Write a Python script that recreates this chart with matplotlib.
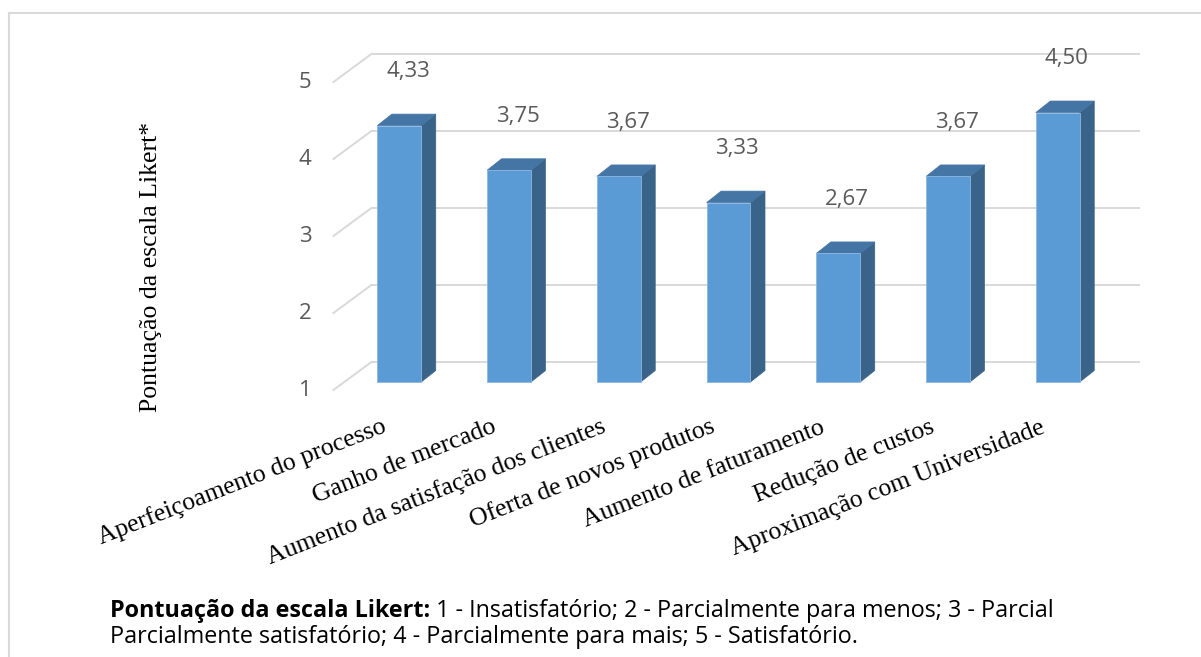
import matplotlib
matplotlib.use("Agg")
import matplotlib.pyplot as plt
from matplotlib.patches import Polygon
from matplotlib.lines import Line2D

# data
categories = [
    "Aperfeiçoamento do processo",
    "Ganho de mercado",
    "Aumento da satisfação dos clientes",
    "Oferta de novos produtos",
    "Aumento de faturamento",
    "Redução de custos",
    "Aproximação com Universidade",
]
scores = [4.33, 3.75, 3.67, 3.33, 2.67, 3.67, 4.50]
score_labels = ["4,33", "3,75", "3,67", "3,33", "2,67", "3,67", "4,50"]
y_ticks = [1, 2, 3, 4, 5]

FRONT = "#5B9BD5"
SIDE = "#3A6389"
TOP = "#4475A4"
GRID = "#D9D9D9"
TXT = "#595959"

W, H = 1201, 657
fig = plt.figure(figsize=(W / 100, H / 100), dpi=100)

# pixel mapping of the bar plane: category 0 centre at x=399.3, 109.75 px per category,
# value 1 at y=382, 77 px per unit
x0px, xs = 399.3, 109.75
y1px, ys = 382.0, 77.0
L, R, T, B = 300, 1160, 30, 400
ax = fig.add_axes([L / W, 1 - B / H, (R - L) / W, (B - T) / H])
ax.set_xlim((L - x0px) / xs, (R - x0px) / xs)
ax.set_ylim(1 - (B - y1px) / ys, 1 + (y1px - T) / ys)
ax.axis("off")

n = len(categories)
base = min(y_ticks)
bw = 0.40
# depth offsets (data units)
back_dx, back_dy = 0.246, 0.26
front_dx, front_dy = -0.10, -0.104
bar_dx, bar_dy = 0.132, 0.149
left_edge, right_edge = -0.5, n - 0.5

# back wall gridlines and the diagonal floor/axis lines
for v in y_ticks:
    ax.plot([left_edge + back_dx, right_edge + back_dx], [v + back_dy, v + back_dy],
            color=GRID, lw=1.4, zorder=1, solid_capstyle="butt")
    ax.plot([left_edge + front_dx, left_edge + back_dx], [v + front_dy, v + back_dy],
            color=GRID, lw=1.4, zorder=1)
    ax.text(left_edge + front_dx - 0.2, v + front_dy, str(v), ha="right", va="center",
            fontsize=16, color=TXT, family="Open Sans")

# bars: front faces with ax.bar, side and top faces as polygons
xs_pos = list(range(n))
heights = [s - base for s in scores]
ax.bar(xs_pos, heights, bottom=base, width=bw, color=FRONT, edgecolor="#8DB6E0",
       linewidth=0.6, zorder=3)
for i, s in enumerate(scores):
    xl, xr = i - bw / 2, i + bw / 2
    side = [(xr, base), (xr, s), (xr + bar_dx, s + bar_dy), (xr + bar_dx, base + bar_dy)]
    top = [(xl, s), (xr, s), (xr + bar_dx, s + bar_dy), (xl + bar_dx, s + bar_dy)]
    ax.add_patch(Polygon(side, closed=True, facecolor=SIDE, edgecolor=SIDE, lw=0.5, zorder=2))
    ax.add_patch(Polygon(top, closed=True, facecolor=TOP, edgecolor=TOP, lw=0.5, zorder=2))
    ax.text(i + 0.08, s + 0.70, score_labels[i], ha="center", va="center",
            fontsize=16, color=TXT, family="Open Sans")
    ax.text(i - 0.11, base - 50 / ys, categories[i], rotation=21.5, rotation_mode="anchor",
            ha="right", va="baseline", fontsize=18.5, color="black", family="Liberation Serif")

fig.text(151 / W, 1 - 267 / H, "Pontuação da escala Likert*", rotation=90,
         ha="center", va="center", fontsize=18.5, family="Liberation Serif")

# footer note
t1 = fig.text(110 / W, 1 - 617 / H, "Pontuação da escala Likert:", fontweight="bold",
              fontsize=16.8, family="Open Sans", va="baseline")
ax.annotate(" 1 - Insatisfatório; 2 - Parcialmente para menos; 3 - Parcial",
            xy=(1, 0), xycoords=t1, va="bottom", ha="left", fontsize=16.8,
            family="Open Sans", annotation_clip=False)
fig.text(110 / W, 1 - 643 / H,
         "Parcialmente satisfatório; 4 - Parcialmente para mais; 5 - Satisfatório.",
         fontsize=16.8, family="Open Sans", va="baseline")

# light frame of the chart area
fig.add_artist(Line2D([8.5 / W, 8.5 / W], [0, 1 - 12.5 / H], color=GRID, lw=1.5,
                      transform=fig.transFigure))
fig.add_artist(Line2D([8.5 / W, 1], [1 - 12.5 / H, 1 - 12.5 / H], color=GRID, lw=1.5,
                      transform=fig.transFigure))

fig.savefig("out.png", dpi=100)
